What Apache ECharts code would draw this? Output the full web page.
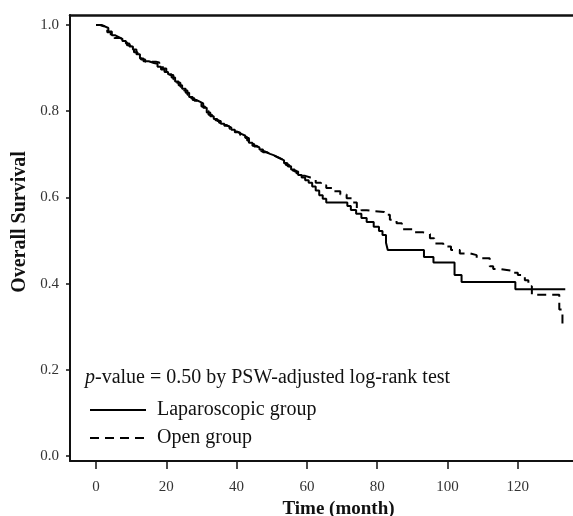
<!DOCTYPE html>
<html>
<head>
<meta charset="utf-8">
<script src="https://cdn.jsdelivr.net/npm/echarts@6/dist/echarts.min.js"></script>
<style>
  html, body { margin: 0; padding: 0; background: #fff; }
  #root { width: 573px; height: 516px; }
</style>
</head>
<body>
<div id="root"></div>
<script>
// Kaplan-Meier points: [month, survival]
const lapTimes = [0, 1.5, 2.5, 3.5, 4.5, 5.5, 6.5, 7.5, 8.5, 9.5, 10.5, 11.5, 12.5, 13.5, 15, 16.5, 17.5, 18.5, 19.5,
    20.5, 21.5, 22.5, 23.5, 24.5, 25.5, 26.5, 27.5, 28.5, 29.5, 30.5, 31.5, 32.5, 33.5, 34.5, 35.5, 36.5, 37.5, 38.5,
    39.5, 40.5, 41.5, 42.5, 43.5, 44.5, 45.5, 46.5, 47.5, 48.5, 49.5, 50.5, 51.5, 52.5, 53.5, 54.5, 55.5, 56.5, 57.5,
    58.5, 59.5, 60.5, 61.5, 62.5, 63.5, 64.5, 65.5, 71.5, 72.5, 74, 75.5, 77, 79, 80.5, 81.5, 82.5, 83, 93.3, 96,
    102, 104, 119.3, 133.5]
const lapSurv = [1.0, 0.997, 0.993, 0.985, 0.976, 0.972, 0.968, 0.963, 0.957, 0.950, 0.943, 0.932, 0.922, 0.916,
    0.912, 0.910, 0.903, 0.897, 0.891, 0.886, 0.878, 0.869, 0.860, 0.852, 0.843, 0.833, 0.826, 0.822, 0.818, 0.808,
    0.797, 0.788, 0.782, 0.777, 0.771, 0.766, 0.762, 0.757, 0.751, 0.747, 0.743, 0.738, 0.727, 0.720, 0.716, 0.711,
    0.705, 0.701, 0.698, 0.694, 0.690, 0.686, 0.679, 0.672, 0.665, 0.660, 0.652, 0.646, 0.640, 0.634, 0.625, 0.616,
    0.605, 0.597, 0.588, 0.580, 0.571, 0.562, 0.552, 0.543, 0.532, 0.522, 0.513, 0.495, 0.478, 0.462, 0.449, 0.420,
    0.404, 0.387, 0.387]

const openTimes = [0, 1.2, 2.2, 3.2, 4.2, 5.2, 6.8, 7.8, 8.8, 9.8, 10.8, 11.8, 12.8, 14, 17, 18, 19, 20, 21, 22, 23,
    24, 25, 26, 27, 28, 29, 30, 31, 32, 33, 34, 35, 36, 37, 38, 39, 40, 41, 42, 43, 44, 45, 46, 47, 48, 49, 50, 51,
    52, 53, 54, 55, 56, 57, 58, 59.5, 61, 62.5, 64, 65.5, 67.5, 69.5, 71.3, 73, 74.2, 75.5, 77, 82, 83.6, 85.5, 87,
    90, 93, 95, 96.2, 98.8, 101, 103.5, 106.5, 108.3, 112, 113, 115, 118, 120, 122, 123, 124, 131.8, 132.7]
const openSurv = [1.0, 0.997, 0.992, 0.983, 0.975, 0.970, 0.966, 0.960, 0.953, 0.945, 0.937, 0.928, 0.920, 0.915,
    0.913, 0.906, 0.899, 0.893, 0.884, 0.874, 0.866, 0.857, 0.848, 0.838, 0.830, 0.824, 0.818, 0.811, 0.801, 0.792,
    0.785, 0.779, 0.773, 0.768, 0.764, 0.759, 0.753, 0.750, 0.745, 0.740, 0.732, 0.724, 0.718, 0.713, 0.707, 0.703,
    0.699, 0.696, 0.692, 0.688, 0.682, 0.675, 0.668, 0.662, 0.656, 0.650, 0.646, 0.642, 0.634, 0.628, 0.622, 0.614,
    0.607, 0.598, 0.588, 0.575, 0.570, 0.566, 0.560, 0.548, 0.540, 0.526, 0.519, 0.515, 0.505, 0.493, 0.486, 0.478,
    0.470, 0.466, 0.459, 0.440, 0.434, 0.430, 0.425, 0.420, 0.408, 0.394, 0.374, 0.340, 0.296]

const xTicks = [0, 20, 40, 60, 80, 100, 120]
const yTicks = [0, 0.2, 0.4, 0.6, 0.8, 1.0]
const seriesNames = ['Laparoscopic group', 'Open group']

const serif = '"Liberation Serif", "DejaVu Serif", serif'
const zip = (a, b) => a.map((t, i) => [t, b[i]])

const chart = echarts.init(document.getElementById('root'))

const option = {
    animation: false,
    backgroundColor: '#fff',
    grid: { left: 70, top: 15, right: 0, bottom: 55, outerBoundsMode: 'none' },
    title: {
        left: 85,
        top: 368,
        padding: 0,
        text: '{i|p}-value = 0.50 by PSW-adjusted log-rank test',
        textStyle: {
            fontFamily: serif, fontSize: 20, fontWeight: 'normal', color: '#111',
            rich: {
                i: { fontFamily: serif, fontSize: 20, fontStyle: 'italic', color: '#111' }
            }
        }
    },
    legend: {
        orient: 'vertical',
        left: 89,
        top: 400,
        padding: 0,
        itemWidth: 56,
        itemHeight: 14,
        itemGap: 8,
        data: seriesNames,
        itemStyle: { opacity: 0 },
        textStyle: { fontFamily: serif, fontSize: 20, color: '#111', padding: [0, 0, 0, 6] }
    },
    xAxis: [{
        type: 'value',
        min: -7.4,
        max: 135.7,
        name: 'Time (month)',
        nameLocation: 'middle',
        nameGap: 38,
        nameTextStyle: { fontFamily: serif, fontSize: 19, fontWeight: 'bold', color: '#111', padding: [0, 0, 0, 34] },
        axisLine: { onZero: false, lineStyle: { color: '#111', width: 2 } },
        axisTick: { customValues: xTicks, length: 8, lineStyle: { color: '#111', width: 1.5 } },
        axisLabel: { customValues: xTicks, margin: 19, fontFamily: serif, fontSize: 15, color: '#333' },
        splitLine: { show: false }
    }, {
        type: 'value',
        position: 'top',
        min: -7.4,
        max: 135.7,
        axisLine: { show: true, onZero: false, lineStyle: { color: '#111', width: 2.5 } },
        axisTick: { show: false },
        axisLabel: { show: false },
        splitLine: { show: false }
    }],
    yAxis: {
        type: 'value',
        min: -0.0116,
        max: 1.0232,
        name: 'Overall Survival',
        nameLocation: 'middle',
        nameRotate: 90,
        nameGap: 40,
        nameTextStyle: { fontFamily: serif, fontSize: 20, fontWeight: 'bold', color: '#111', padding: [0, 0, 0, 32] },
        axisLine: { show: true, onZero: false, lineStyle: { color: '#111', width: 2 } },
        axisTick: { show: true, customValues: yTicks, length: 4, lineStyle: { color: '#111', width: 1.5 } },
        axisLabel: {
            customValues: yTicks, margin: 11, fontFamily: serif, fontSize: 15, color: '#333',
            formatter: v => v.toFixed(1)
        },
        splitLine: { show: false }
    },
    series: [{
        name: seriesNames[0],
        type: 'line',
        step: 'end',
        symbol: 'none',
        data: zip(lapTimes, lapSurv),
        lineStyle: { color: '#000', width: 2 },
        itemStyle: { color: '#000' }
    }, {
        name: seriesNames[1],
        type: 'line',
        step: 'end',
        symbol: 'none',
        data: zip(openTimes, openSurv),
        lineStyle: { color: '#000', width: 2, type: [9, 6] },
        itemStyle: { color: '#000' }
    }]
}
chart.setOption(option)
</script>
</body>
</html>
